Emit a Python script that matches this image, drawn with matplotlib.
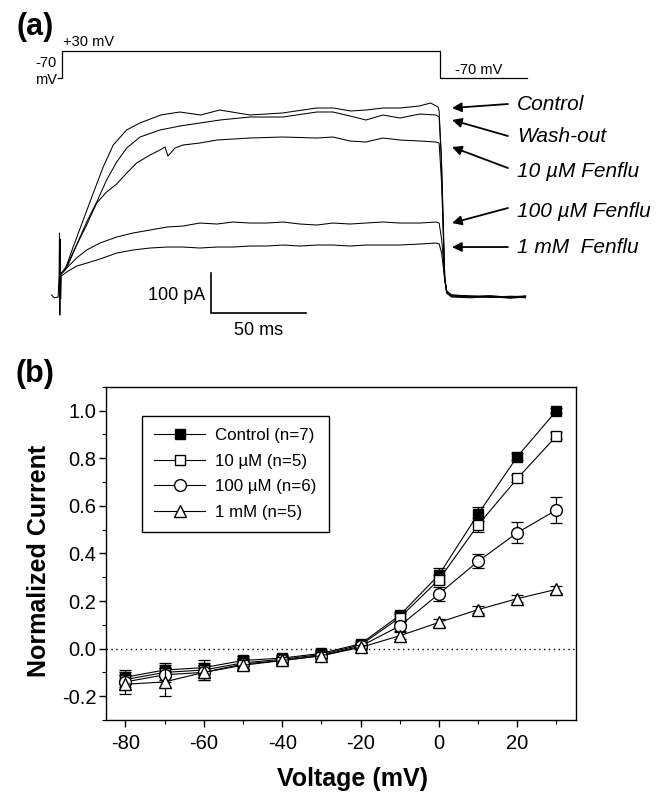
import numpy as np
import matplotlib
matplotlib.use('Agg')
import matplotlib.pyplot as plt
from matplotlib.ticker import MultipleLocator

plt.rcParams['font.family'] = ['Liberation Sans', 'DejaVu Sans']
plt.rcParams['axes.unicode_minus'] = False

# ---------------- panel (a) data: currents (ms, pA) ----------------
ctrl_t = [-1, 1.6, 5.9, 11.2, 16.5, 21.7, 27, 34, 41, 52, 62, 73, 83, 99, 116, 134, 143, 152, 160, 169, 178, 188, 194, 198,
          198.5, 199.6, 200.5, 201.3, 202.3, 205, 215, 225, 236, 244]
ctrl_i = [0, 12.5, 70, 137.5, 205, 270, 325, 362.5, 380, 400, 407.5, 400, 412.5, 400, 405, 417.5, 417.5, 410, 412.5, 417.5,
          417.5, 422.5, 430, 420, 410, 300, 150, 0, -40, -52, -55, -52, -56, -53]

wash_t = [-1, 2.5, 7.7, 13, 18.3, 23.5, 28.8, 34.1, 41.1, 51.6, 62.1, 72.6, 83.2, 98.9, 116.3, 134.2, 142.6, 151.6, 160,
          168.9, 177.9, 188.4, 196.8, 198.5, 199.8, 200.7, 201.5, 202.5, 205, 215, 225, 236, 244]
wash_i = [0, 17.5, 75, 132.5, 182.5, 237.5, 282.5, 317.5, 345, 362.5, 372.5, 380, 387.5, 395, 395, 407.5, 407.5, 397.5,
          387.5, 400, 392.5, 402.5, 400, 395, 280, 130, -10, -45, -55, -57, -54, -58, -55]

um10_t = [-1, 2.5, 7.7, 13, 18.3, 23.5, 28.8, 34.1, 39.3, 46.3, 51.6, 54.2, 55.8, 59.5, 63.7, 72.6, 81.6, 98.9, 116.3,
          134.2, 142.6, 151.6, 160, 168.9, 177.9, 188.4, 196.8, 198.5, 199.8, 200.7, 201.5, 202.5, 205, 215, 225, 236, 244]
um10_i = [0, 22.5, 75, 125, 180, 207.5, 227.5, 255, 280, 300, 312.5, 320, 297.5, 317.5, 325, 330, 337.5, 342.5, 345,
          342.5, 345, 335, 332.5, 342.5, 337.5, 335, 332.5, 330, 230, 100, -10, -45, -53, -54, -56, -55, -57]

um100_t = [-1, 2.5, 7.7, 13, 20, 28.8, 37.4, 46.3, 55.3, 63.7, 72.6, 81.6, 90, 98.9, 107.9, 116.3, 125.3, 134.2, 142.6,
           151.6, 160, 168.9, 177.9, 188.4, 196.8, 198.5, 199.8, 200.7, 201.5, 202.5, 205, 215, 225, 236, 244]
um100_i = [0, 17.5, 42.5, 62.5, 80, 95, 105, 112.5, 120, 122.5, 130, 127.5, 132.5, 130, 130, 132.5, 127.5, 125, 130,
           127.5, 130, 132.5, 130, 130, 132.5, 130, 90, 40, -10, -40, -50, -52, -55, -53, -54]

mm1_t = [-1, 2.5, 7.7, 13.2, 20, 28.9, 37.4, 46.3, 55.3, 63.7, 72.6, 81.6, 90, 98.9, 107.9, 116.3, 125.3, 134.2, 142.6,
         151.6, 160, 168.9, 177.9, 188.4, 196.8, 198.5, 199.8, 200.7, 201.5, 202.5, 205, 215, 225, 236, 244]
mm1_i = [-5, 7.5, 22.5, 30, 40, 55, 62.5, 67.5, 70, 70, 67.5, 70, 70, 72.5, 72.5, 75, 72.5, 75, 75, 72.5, 75, 75, 75,
         77.5, 80, 78, 55, 20, -15, -40, -50, -53, -52, -55, -52]

# capacitive transient at the step onset
trans_t = [-5.5, -4, -2, -1.5, -1.3, -1.1, -0.9, -0.7, -0.3]
trans_i = [-50, -57, -55, 0, 105, -100, 90, -60, 0]

# voltage protocol
prot_t = [-2, 0, 0, 199, 199, 245]
prot_v = [-70, -70, 30, 30, -70, -70]

trace_labels = ['Control', 'Wash-out', '10 µM Fenflu', '100 µM Fenflu', '1 mM  Fenflu']

# ---------------- panel (b) data: normalized I-V ----------------
volt = [-80, -70, -60, -50, -40, -30, -20, -10, 0, 10, 20, 30]
control = [-0.12, -0.09, -0.08, -0.05, -0.04, -0.02, 0.02, 0.14, 0.31, 0.566, 0.807, 1.0]
control_err = [0.03, 0.03, 0.03, 0.02, 0.015, 0.015, 0.01, 0.015, 0.03, 0.03, 0.015, 0.01]
um10 = [-0.13, -0.10, -0.09, -0.06, -0.045, -0.025, 0.015, 0.13, 0.29, 0.52, 0.715, 0.894]
um10_err = [0.03, 0.03, 0.03, 0.02, 0.015, 0.015, 0.01, 0.015, 0.02, 0.03, 0.015, 0.015]
um100 = [-0.14, -0.11, -0.10, -0.065, -0.05, -0.03, 0.01, 0.095, 0.23, 0.367, 0.487, 0.583]
um100_err = [0.03, 0.03, 0.03, 0.02, 0.015, 0.015, 0.01, 0.02, 0.03, 0.03, 0.045, 0.055]
mm1 = [-0.15, -0.14, -0.10, -0.07, -0.05, -0.03, 0.005, 0.054, 0.11, 0.164, 0.21, 0.249]
mm1_err = [0.04, 0.06, 0.03, 0.02, 0.015, 0.015, 0.01, 0.015, 0.015, 0.015, 0.015, 0.015]
iv_labels = ['Control (n=7)', '10 µM (n=5)', '100 µM (n=6)', '1 mM (n=5)']

fig = plt.figure(figsize=(6.66, 7.93), dpi=100)

# ---- panel (a): current traces ----
axa = fig.add_axes([0.0, 0.5712, 0.8408, 0.3153])
axa.set_xlim(-32.6, 262.1)
axa.set_ylim(-162.5, 462.5)
axa.axis('off')

for t, i in [(ctrl_t, ctrl_i), (wash_t, wash_i), (um10_t, um10_i), (um100_t, um100_i), (mm1_t, mm1_i)]:
    axa.plot(t, i, color='k', lw=0.75)
axa.plot(trans_t, trans_i, color='k', lw=0.75)

# scale bars: 100 pA, 50 ms
axa.plot([78.4, 78.4, 128.4], [5, -95, -95], color='k', lw=1.2, solid_joinstyle='miter')
axa.text(75.3, -50, '100 pA', ha='right', va='center', fontsize=13)
axa.text(103.4, -118, '50 ms', ha='center', va='top', fontsize=13)

# arrows + labels
tips = [417.5, 387.5, 320, 130, 70]
tails = [427.5, 347.5, 267.5, 167.5, 70]
texts = [427.5, 347.5, 260, 160, 70]
for lab, tip, tail, ty in zip(trace_labels, tips, tails, texts):
    axa.annotate('', xy=(205.3, tip), xytext=(234.7, tail),
                 arrowprops=dict(arrowstyle='-|>', color='k', lw=1.3, mutation_scale=14, shrinkA=0, shrinkB=0))
    axa.text(239.5, ty, lab, ha='left', va='center', fontsize=15, style='italic')

# ---- voltage protocol ----
axv = fig.add_axes([0.0, 0.8865, 0.8408, 0.0757])
axv.set_xlim(-32.6, 262.1)
axv.set_ylim(-114, 105.8)
axv.axis('off')
axv.plot(prot_t, prot_v, color='k', lw=0.9)
axv.text(0.8, 62, '+30 mV', ha='left', va='center', fontsize=10.5)
axv.text(-14.2, -15, '-70', ha='left', va='center', fontsize=10.5)
axv.text(-14.2, -77, 'mV', ha='left', va='center', fontsize=10.5)
axv.text(206.8, -40, '-70 mV', ha='left', va='center', fontsize=10.5)

fig.text(35 / 666, 1 - 27 / 793, '(a)', ha='center', va='center', fontsize=22, fontweight='bold')
fig.text(35 / 666, 1 - 374 / 793, '(b)', ha='center', va='center', fontsize=22, fontweight='bold')

# ---- panel (b): I-V curves ----
axb = fig.add_axes([0.159, 0.0921, 0.706, 0.420])
axb.axhline(0, color='k', ls=(0, (1, 2.5)), lw=1)

series = [(control, control_err, 's', 'k', 7.5),
          (um10, um10_err, 's', 'white', 7.5),
          (um100, um100_err, 'o', 'white', 8.5),
          (mm1, mm1_err, '^', 'white', 9)]
handles = []
for (vals, err, mk, fc, ms), lab in zip(series, iv_labels):
    axb.errorbar(volt, vals, yerr=err, fmt='none', ecolor='k', elinewidth=0.9, capsize=4.5, capthick=0.9)
    h, = axb.plot(volt, vals, color='k', lw=0.8, marker=mk, markersize=ms,
                  markerfacecolor=fc, markeredgecolor='k', markeredgewidth=1.0, label=lab)
    handles.append(h)

axb.set_xlim(-85, 35)
axb.set_ylim(-0.3, 1.1)
axb.xaxis.set_major_locator(MultipleLocator(20))
axb.xaxis.set_minor_locator(MultipleLocator(10))
axb.yaxis.set_minor_locator(MultipleLocator(0.1))
axb.set_yticks(np.arange(-0.2, 1.01, 0.2))
axb.set_yticklabels(['-0.2', '0.0', '0.2', '0.4', '0.6', '0.8', '1.0'])
axb.tick_params(which='major', direction='out', length=5, width=1, labelsize=14.5)
axb.tick_params(which='minor', direction='out', length=3, width=0.8)
axb.tick_params(axis='x', pad=5)
axb.tick_params(axis='y', pad=2)
for s in axb.spines.values():
    s.set_linewidth(1)

axb.set_ylabel('Normalized Current', fontsize=18, fontweight='bold')
axb.set_xlabel('Voltage (mV)', fontsize=18, fontweight='bold')
axb.yaxis.set_label_coords(-0.117, 0.476)
axb.xaxis.set_label_coords(0.5245, -0.141)

leg = axb.legend(handles=handles, loc='upper left', bbox_to_anchor=(0.076, 0.914), borderaxespad=0,
                 fontsize=12.2, frameon=True, fancybox=False, edgecolor='k', framealpha=1,
                 handlelength=3.0, handletextpad=0.6, labelspacing=0.62, borderpad=0.75)
leg.get_frame().set_linewidth(1)

fig.savefig('out.png', dpi=100)
